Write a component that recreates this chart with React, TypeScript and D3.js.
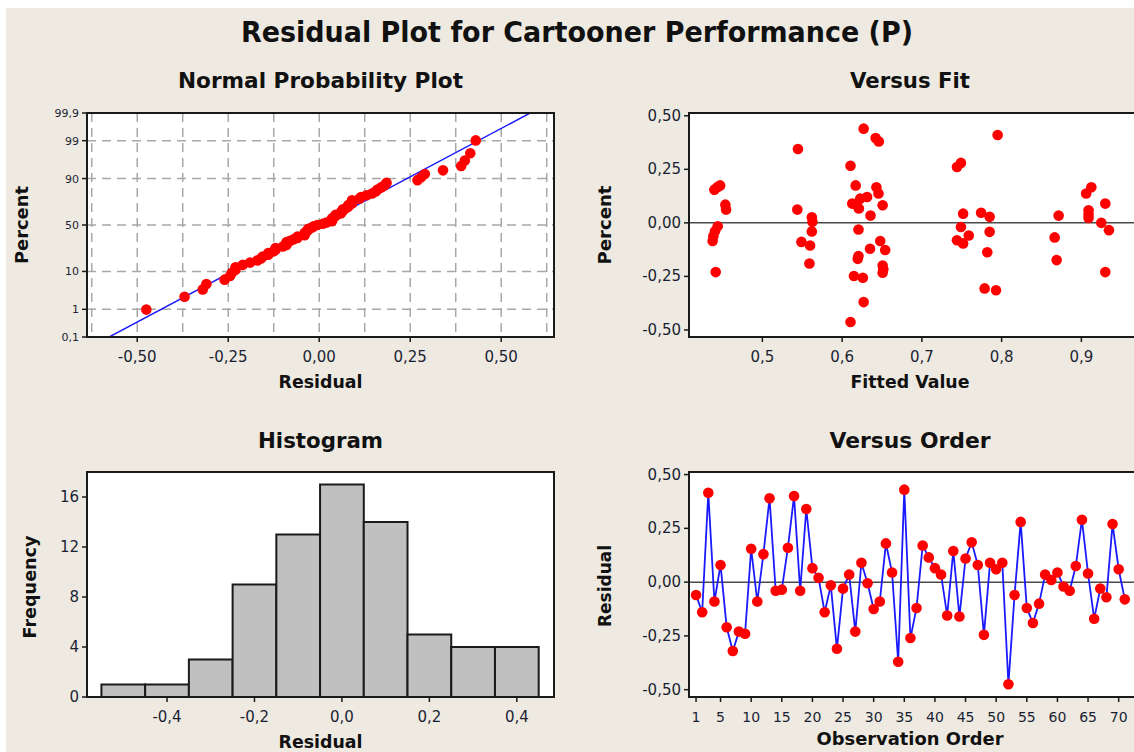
import React from "react";
import * as d3 from "d3";

// ---------- DATA ----------
const TITLE = "Residual Plot for Cartooner Performance (P)";

// residuals in observation order (Versus Order panel)
const RESIDUALS = [
  -0.06, -0.14, 0.415, -0.09, 0.08, -0.21, -0.32, -0.23, -0.24, 0.155,
  -0.09, 0.13, 0.39, -0.04, -0.035, 0.16, 0.4, -0.04, 0.34, 0.065,
  0.02, -0.14, -0.015, -0.31, -0.03, 0.035, -0.23, 0.09, -0.005, -0.125,
  -0.09, 0.18, 0.045, -0.37, 0.43, -0.26, -0.12, 0.17, 0.115, 0.065,
  0.035, -0.155, 0.145, -0.16, 0.11, 0.185, 0.08, -0.245, 0.09, 0.06,
  0.09, -0.475, -0.06, 0.28, -0.12, -0.19, -0.1, 0.035, 0.01, 0.045,
  -0.02, -0.04, 0.075, 0.29, 0.04, -0.17, -0.03, -0.07, 0.27, 0.06,
  -0.08,
];

// Versus Fit panel: fitted values and residuals
const FITTED = [
  0.4398, 0.444, 0.447, 0.4536, 0.4545, 0.444, 0.4406, 0.4385, 0.4376, 0.4415,
  0.5446, 0.5438, 0.549, 0.5598, 0.559, 0.562, 0.5628, 0.562,
  0.627, 0.642, 0.646, 0.6105, 0.617, 0.643, 0.6456, 0.6313, 0.6226, 0.6127,
  0.618, 0.621, 0.6508, 0.6356, 0.6205, 0.635, 0.6478, 0.654, 0.6205, 0.6196,
  0.6508, 0.6517, 0.6508, 0.6148, 0.626, 0.627, 0.6105,
  0.744, 0.749, 0.7517, 0.749, 0.744, 0.7588, 0.7517,
  0.795, 0.7743, 0.785, 0.785, 0.782, 0.7787, 0.793,
  0.8715, 0.8665, 0.869,
  0.9125, 0.906, 0.909, 0.909, 0.909, 0.93, 0.925, 0.9346, 0.93,
];
const FIT_RESIDUALS = [
  0.155, 0.168, 0.175, 0.085, 0.062, -0.016, -0.039, -0.062, -0.085, -0.23,
  0.345, 0.062, -0.089, -0.106, -0.19, 0.026, 0.005, -0.04,
  0.44, 0.396, 0.38, 0.267, 0.175, 0.166, 0.137, 0.121, 0.113, 0.09,
  0.085, 0.067, 0.082, 0.034, -0.031, -0.121, -0.085, -0.127, -0.155, -0.168,
  -0.199, -0.217, -0.233, -0.248, -0.256, -0.37, -0.463,
  0.261, 0.28, 0.043, -0.019, -0.081, -0.059, -0.096,
  0.41, 0.047, 0.028, -0.042, -0.137, -0.306, -0.315,
  0.034, -0.068, -0.174,
  0.166, 0.137, 0.059, 0.039, 0.023, 0.09, 0.0, -0.034, -0.23,
];

// Histogram
const HIST_BIN_STARTS = [-0.55, -0.45, -0.35, -0.25, -0.15, -0.05, 0.05, 0.15, 0.25, 0.35];
const HIST_BIN_WIDTH = 0.1;
const HIST_COUNTS = [1, 1, 3, 9, 13, 17, 14, 5, 4, 4];

// Ticks
const NPP_X_TICKS = [-0.5, -0.25, 0, 0.25, 0.5];
const NPP_X_GRID = [-0.625, -0.5, -0.375, -0.25, -0.125, 0, 0.125, 0.25, 0.375, 0.5, 0.625];
const NPP_Y_TICKS = [0.1, 1, 10, 50, 90, 99, 99.9];
const NPP_Y_LABELS = ["0,1", "1", "10", "50", "90", "99", "99,9"];
const NPP_Y_GRID = [1, 10, 50, 90, 99];
const FIT_X_TICKS = [0.5, 0.6, 0.7, 0.8, 0.9];
const RESID_Y_TICKS = [-0.5, -0.25, 0, 0.25, 0.5];
const HIST_X_TICKS = [-0.4, -0.2, 0, 0.2, 0.4];
const HIST_Y_TICKS = [0, 4, 8, 12, 16];
const ORDER_X_TICKS = [1, 5, 10, 15, 20, 25, 30, 35, 40, 45, 50, 55, 60, 65, 70];

// ---------- helpers ----------
const FONT = "'DejaVu Sans', Verdana, sans-serif";
const TXT = "#1b1f33";
const BG = "#EEEAE1";

const comma = (s: string) => s.replace(".", ",").replace("\u2212", "-");
const f2 = (v: number) => comma(d3.format(".2f")(v));
const f1 = (v: number) => comma(d3.format(".1f")(v));

function probit(p: number): number {
  const a = [-39.69683028665376, 220.9460984245205, -275.9285104469687, 138.357751867269, -30.66479806614716, 2.506628277459239];
  const b = [-54.47609879822406, 161.5858368580409, -155.6989798598866, 66.80131188771972, -13.28068155288572];
  const c = [-0.007784894002430293, -0.3223964580411365, -2.400758277161838, -2.549671010243839, 4.374664141464968, 2.938163982698783];
  const d = [0.007784695709041462, 0.3224671290700398, 2.445134137142996, 3.754408661907416];
  const pl = 0.02425;
  if (p < pl) {
    const q = Math.sqrt(-2 * Math.log(p));
    return (((((c[0] * q + c[1]) * q + c[2]) * q + c[3]) * q + c[4]) * q + c[5]) / ((((d[0] * q + d[1]) * q + d[2]) * q + d[3]) * q + 1);
  }
  if (p <= 1 - pl) {
    const q = p - 0.5;
    const r = q * q;
    return ((((((a[0] * r + a[1]) * r + a[2]) * r + a[3]) * r + a[4]) * r + a[5]) * q) / (((((b[0] * r + b[1]) * r + b[2]) * r + b[3]) * r + b[4]) * r + 1);
  }
  const q = Math.sqrt(-2 * Math.log(1 - p));
  return -(((((c[0] * q + c[1]) * q + c[2]) * q + c[3]) * q + c[4]) * q + c[5]) / ((((d[0] * q + d[1]) * q + d[2]) * q + d[3]) * q + 1);
}

type Box = { l: number; r: number; t: number; b: number };

const Frame = ({ box }: { box: Box }) => (
  <rect x={box.l} y={box.t} width={box.r - box.l} height={box.b - box.t} fill="none" stroke="#1a1a1a" strokeWidth={2} />
);

const BottomTicks = ({ vals, x, y, fmt, size = 15 }: { vals: number[]; x: (v: number) => number; y: number; fmt: (v: number) => string; size?: number }) => (
  <g>
    {vals.map((v, i) => (
      <g key={i}>
        <line x1={x(v)} x2={x(v)} y1={y} y2={y + 5} stroke="#1a1a1a" strokeWidth={1.5} />
        <text x={x(v)} y={y + 25} textAnchor="middle" fontFamily={FONT} fontSize={size} fill={TXT}>
          {fmt(v)}
        </text>
      </g>
    ))}
  </g>
);

const LeftTicks = ({ vals, y, x, labels, size = 15, dy = 5 }: { vals: number[]; y: (v: number) => number; x: number; labels: string[]; size?: number; dy?: number }) => (
  <g>
    {vals.map((v, i) => (
      <g key={i}>
        <line x1={x - 5} x2={x} y1={y(v)} y2={y(v)} stroke="#1a1a1a" strokeWidth={1.5} />
        <text x={x - 8} y={y(v) + dy} textAnchor="end" fontFamily={FONT} fontSize={size} fill={TXT}>
          {labels[i]}
        </text>
      </g>
    ))}
  </g>
);

const Label = ({ x, y, text, len, size, rotate }: { x: number; y: number; text: string; len: number; size: number; rotate?: boolean }) => (
  <text
    transform={`translate(${x},${y})${rotate ? " rotate(-90)" : ""}`}
    textAnchor="middle"
    fontFamily={FONT}
    fontWeight="bold"
    fontSize={size}
    fill="#111"
    textLength={len}
    lengthAdjust="spacingAndGlyphs"
  >
    {text}
  </text>
);

export default function App() {
  // ---- Normal probability plot ----
  const nppBox: Box = { l: 87, r: 554, t: 113, b: 337 };
  const nppX = d3.scaleLinear().domain([-0.638, 0.645]).range([nppBox.l, nppBox.r]);
  const zMax = probit(0.999);
  const nppY = d3.scaleLinear().domain([-zMax, zMax]).range([nppBox.b, nppBox.t]);
  const pY = (pct: number) => nppY(probit(pct / 100));
  const sorted = [...RESIDUALS].sort((a, b) => a - b);
  const n = sorted.length;
  const nppPts = sorted.map((v, i) => ({ x: v, p: ((i + 1 - 0.3) / (n + 0.4)) * 100 }));
  const mu = d3.mean(RESIDUALS) as number;
  const sd = d3.deviation(RESIDUALS) as number;
  const fitLine = d3.line<number>().x((z) => nppX(mu + sd * z)).y((z) => nppY(z))([-3.6, 3.6]);

  // ---- Versus fit ----
  const fitBox: Box = { l: 689, r: 1170, t: 113, b: 337 };
  const fitX = d3.scaleLinear().domain([0.408, 0.408 + (1170 - 689) / 797.5]).range([fitBox.l, fitBox.r]);
  const fitY = d3.scaleLinear().domain([-0.533, 0.513]).range([fitBox.b, fitBox.t]);

  // ---- Histogram ----
  const histBox: Box = { l: 87, r: 554, t: 472, b: 697 };
  const histX = d3.scaleLinear().domain([-0.583, 0.485]).range([histBox.l, histBox.r]);
  const histY = d3.scaleLinear().domain([0, 18]).range([histBox.b, histBox.t]);

  // ---- Versus order ----
  const ordBox: Box = { l: 689, r: 1170, t: 472, b: 697 };
  const ordX = d3.scaleLinear().domain([-0.15, -0.15 + (1170 - 689) / 6.125]).range([ordBox.l, ordBox.r]);
  const ordY = d3.scaleLinear().domain([-0.534, 0.512]).range([ordBox.b, ordBox.t]);
  const ordLine = d3
    .line<number>()
    .x((_, i) => ordX(i + 1))
    .y((v) => ordY(v))(RESIDUALS);

  return (
    <svg width={1134} height={752} style={{ position: "absolute", left: 0, top: 0 }}>
      <defs>
        <clipPath id="nppClip">
          <rect x={nppBox.l} y={nppBox.t} width={nppBox.r - nppBox.l} height={nppBox.b - nppBox.t} />
        </clipPath>
      </defs>
      <rect x={0} y={0} width={1134} height={752} fill="#ffffff" />
      <rect x={6} y={8} width={1128} height={744} fill={BG} />

      <Label x={577} y={42} text={TITLE} len={672} size={28} />

      {/* Normal Probability Plot */}
      <Label x={320.5} y={88} text="Normal Probability Plot" len={285} size={22} />
      <rect x={nppBox.l} y={nppBox.t} width={nppBox.r - nppBox.l} height={nppBox.b - nppBox.t} fill="#fff" />
      {NPP_X_GRID.map((v, i) => (
        <line key={"gx" + i} x1={nppX(v)} x2={nppX(v)} y1={nppBox.t} y2={nppBox.b} stroke="#a8a8a8" strokeWidth={1.5} strokeDasharray="9,6" />
      ))}
      {NPP_Y_GRID.map((v, i) => (
        <line key={"gy" + i} x1={nppBox.l} x2={nppBox.r} y1={pY(v)} y2={pY(v)} stroke="#a8a8a8" strokeWidth={1.5} strokeDasharray="9,6" />
      ))}
      <path d={fitLine || ""} stroke="#1a1aff" strokeWidth={1.5} fill="none" clipPath="url(#nppClip)" />
      {nppPts.map((d, i) => (
        <circle key={"np" + i} cx={nppX(d.x)} cy={pY(d.p)} r={5.3} fill="#ff0000" />
      ))}
      <Frame box={nppBox} />
      <BottomTicks vals={NPP_X_TICKS} x={nppX} y={nppBox.b} fmt={f2} />
      <LeftTicks vals={NPP_Y_TICKS} y={pY} x={nppBox.l} labels={NPP_Y_LABELS} size={11} dy={4} />
      <Label x={320.5} y={388} text="Residual" len={84} size={17} />
      <Label x={28} y={225} text="Percent" len={78} size={17} rotate />

      {/* Versus Fit */}
      <Label x={910} y={88} text="Versus Fit" len={120} size={22} />
      <rect x={fitBox.l} y={fitBox.t} width={fitBox.r - fitBox.l} height={fitBox.b - fitBox.t} fill="#fff" />
      <line x1={fitBox.l} x2={fitBox.r} y1={fitY(0)} y2={fitY(0)} stroke="#4a4a4a" strokeWidth={1.5} />
      {FITTED.map((f, i) => (
        <circle key={"fp" + i} cx={fitX(f)} cy={fitY(FIT_RESIDUALS[i])} r={5.3} fill="#ff0000" />
      ))}
      <Frame box={fitBox} />
      <BottomTicks vals={FIT_X_TICKS} x={fitX} y={fitBox.b} fmt={f1} />
      <LeftTicks vals={RESID_Y_TICKS} y={fitY} x={fitBox.l} labels={RESID_Y_TICKS.map(f2)} />
      <Label x={910} y={388} text="Fitted Value" len={119} size={17} />
      <Label x={611} y={225} text="Percent" len={79} size={17} rotate />

      {/* Histogram */}
      <Label x={320.5} y={448} text="Histogram" len={125} size={22} />
      <rect x={histBox.l} y={histBox.t} width={histBox.r - histBox.l} height={histBox.b - histBox.t} fill="#fff" />
      {HIST_BIN_STARTS.map((s, i) => (
        <rect
          key={"hb" + i}
          x={histX(s)}
          y={histY(HIST_COUNTS[i])}
          width={histX(s + HIST_BIN_WIDTH) - histX(s)}
          height={histY(0) - histY(HIST_COUNTS[i])}
          fill="#c0c0c0"
          stroke="#1a1a1a"
          strokeWidth={2}
        />
      ))}
      <Frame box={histBox} />
      <BottomTicks vals={HIST_X_TICKS} x={histX} y={histBox.b} fmt={f1} />
      <LeftTicks vals={HIST_Y_TICKS} y={histY} x={histBox.l} labels={HIST_Y_TICKS.map(String)} />
      <Label x={320.5} y={748} text="Residual" len={84} size={17} />
      <Label x={36} y={587} text="Frequency" len={103} size={17} rotate />

      {/* Versus Order */}
      <Label x={910} y={448} text="Versus Order" len={161} size={22} />
      <rect x={ordBox.l} y={ordBox.t} width={ordBox.r - ordBox.l} height={ordBox.b - ordBox.t} fill="#fff" />
      <line x1={ordBox.l} x2={ordBox.r} y1={ordY(0)} y2={ordY(0)} stroke="#4a4a4a" strokeWidth={1.5} />
      <path d={ordLine || ""} stroke="#1a1aff" strokeWidth={1.8} fill="none" />
      {RESIDUALS.map((v, i) => (
        <circle key={"op" + i} cx={ordX(i + 1)} cy={ordY(v)} r={5.3} fill="#ff0000" />
      ))}
      <Frame box={ordBox} />
      <BottomTicks vals={ORDER_X_TICKS} x={ordX} y={ordBox.b} fmt={(v) => String(v)} size={14} />
      <LeftTicks vals={RESID_Y_TICKS} y={ordY} x={ordBox.l} labels={RESID_Y_TICKS.map(f2)} />
      <Label x={910} y={745} text="Observation Order" len={187} size={17} />
      <Label x={611} y={586} text="Residual" len={82} size={17} rotate />
    </svg>
  );
}
